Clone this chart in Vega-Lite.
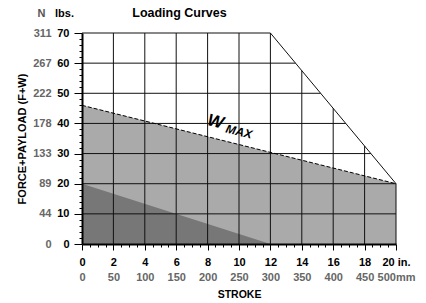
{
  "$schema": "https://vega.github.io/schema/vega-lite/v6.json",
  "width": 314,
  "height": 211,
  "autosize": {"type": "none"},
  "padding": {"left": 82, "top": 33, "right": 30, "bottom": 59},
  "background": "white",
  "config": {
    "font": "Liberation Sans",
    "view": {"stroke": null},
    "axis": {"grid": false, "labelOverlap": false, "labelFlush": false, "labelFont": "Liberation Sans", "titleFont": "Liberation Sans"},
    "text": {"font": "Liberation Sans"}
  },
  "datasets": {
    "wmax": [{"stroke": 0, "load": 46}, {"stroke": 20, "load": 20}],
    "fmax": [{"stroke": 0, "load": 20}, {"stroke": 12, "load": 0}],
    "grid": [
      {"x": 2, "x2": 2, "y": 0, "y2": 70},
      {"x": 4, "x2": 4, "y": 0, "y2": 70},
      {"x": 6, "x2": 6, "y": 0, "y2": 70},
      {"x": 8, "x2": 8, "y": 0, "y2": 70},
      {"x": 10, "x2": 10, "y": 0, "y2": 70},
      {"x": 12, "x2": 12, "y": 0, "y2": 70},
      {"x": 14, "x2": 14, "y": 0, "y2": 57.5},
      {"x": 16, "x2": 16, "y": 0, "y2": 45},
      {"x": 18, "x2": 18, "y": 0, "y2": 32.5},
      {"x": 20, "x2": 20, "y": 0, "y2": 20},
      {"x": 0, "x2": 20, "y": 10, "y2": 10},
      {"x": 0, "x2": 20, "y": 20, "y2": 20},
      {"x": 0, "x2": 18.4, "y": 30, "y2": 30},
      {"x": 0, "x2": 16.8, "y": 40, "y2": 40},
      {"x": 0, "x2": 15.2, "y": 50, "y2": 50},
      {"x": 0, "x2": 13.6, "y": 60, "y2": 60},
      {"x": 0, "x2": 12, "y": 70, "y2": 70},
      {"x": 12, "x2": 20, "y": 70, "y2": 20}
    ],
    "wline": [{"x": 0, "y": 46, "x2": 20, "y2": 20}],
    "labelW": [{"text": "W", "x": 8.5, "y": 40.5}],
    "labelMax": [{"text": "MAX", "x": 10.0, "y": 37.3}]
  },
  "resolve": {"axis": {"x": "independent", "y": "independent"}},
  "layer": [
    {
      "data": {"name": "wmax"},
      "mark": {"type": "area", "color": "#aaaaaa", "opacity": 1},
      "encoding": {
        "x": {"field": "stroke", "type": "quantitative",
          "scale": {"domain": [0, 20], "nice": false, "zero": true},
          "axis": {"orient": "bottom", "values": [0, 2, 4, 6, 8, 10, 12, 14, 16, 18, 20],
            "labelExpr": "datum.value == 20 ? '20 in.' : datum.label",
            "tickSize": 6, "tickColor": "black", "tickWidth": 1,
            "domain": true, "domainWidth": 2, "domainColor": "black",
            "labelFontWeight": "bold", "labelFontSize": 11, "labelColor": "black", "labelPadding": 6,
            "title": null, "zindex": 1}},
        "y": {"field": "load", "type": "quantitative",
          "scale": {"domain": [0, 70], "nice": false},
          "axis": {"orient": "left", "values": [0, 10, 20, 30, 40, 50, 60, 70],
            "tickSize": 8, "tickColor": "black", "tickWidth": 1,
            "domain": true, "domainWidth": 2, "domainColor": "black",
            "labelFontWeight": "bold", "labelFontSize": 11, "labelColor": "black", "labelPadding": 5,
            "title": "lbs.", "titleAngle": 0, "titleX": -18, "titleY": -20, "titleAlign": "center", "titleBaseline": "middle",
            "titleFontSize": 11, "titleFontWeight": "bold", "titleColor": "black", "zindex": 1}},
        "y2": {"datum": 0}
      }
    },
    {
      "data": {"name": "fmax"},
      "mark": {"type": "area", "color": "#777777", "opacity": 1},
      "encoding": {
        "x": {"field": "stroke", "type": "quantitative",
          "axis": {"orient": "bottom", "values": [0, 2, 4, 6, 8, 10, 12, 14, 16, 18, 20],
            "labelExpr": "datum.value == 20 ? '500mm' : '' + (datum.value * 25)",
            "ticks": false, "tickSize": 0, "domain": false,
            "labelFontSize": 11, "labelFontWeight": "bold", "labelColor": "#666666", "labelPadding": 27,
            "title": "STROKE", "titleY": 45, "titleBaseline": "top", "titleFontSize": 10.5, "titleFontWeight": "bold", "titleColor": "black"}},
        "y": {"field": "load", "type": "quantitative",
          "axis": {"orient": "left", "values": [0, 10, 20, 30, 40, 50, 60, 70],
            "labelExpr": "'' + round(datum.value * 4.448)",
            "ticks": false, "tickSize": 0, "domain": false, "offset": 25,
            "labelFontSize": 11, "labelFontWeight": "bold", "labelColor": "#666666", "labelPadding": 6,
            "title": "N", "titleAngle": 0, "titleX": -16, "titleY": -20, "titleAlign": "center", "titleBaseline": "middle",
            "titleFontSize": 11, "titleFontWeight": "bold", "titleColor": "#555555"}},
        "y2": {"datum": 0}
      }
    },
    {
      "data": {"name": "grid"},
      "mark": {"type": "rule", "color": "#111111", "strokeWidth": 1},
      "encoding": {
        "x": {"field": "x", "type": "quantitative",
          "axis": {"orient": "bottom", "values": [0.5, 1, 1.5, 2.5, 3, 3.5, 4.5, 5, 5.5, 6.5, 7, 7.5, 8.5, 9, 9.5, 10.5, 11, 11.5, 12.5, 13, 13.5, 14.5, 15, 15.5, 16.5, 17, 17.5, 18.5, 19, 19.5],
            "labels": false, "domain": false, "tickSize": 3, "tickColor": "black", "title": null, "zindex": 1}},
        "x2": {"field": "x2"},
        "y": {"field": "y", "type": "quantitative",
          "axis": {"orient": "left", "values": [2, 4, 6, 8, 12, 14, 16, 18, 22, 24, 26, 28, 32, 34, 36, 38, 42, 44, 46, 48, 52, 54, 56, 58, 62, 64, 66, 68],
            "labels": false, "domain": false, "tickSize": 3, "tickColor": "black",
            "title": "FORCE+PAYLOAD (F+W)", "titleAngle": 270, "titleX": -60, "titleY": 105.5, "titleAlign": "center", "titleBaseline": "middle",
            "titleFontSize": 11, "titleFontWeight": "bold", "titleColor": "black", "zindex": 1}},
        "y2": {"field": "y2"}
      }
    },
    {
      "data": {"name": "wline"},
      "mark": {"type": "rule", "color": "black", "strokeWidth": 1, "strokeDash": [4, 2]},
      "encoding": {
        "x": {"field": "x", "type": "quantitative",
          "axis": {"orient": "top", "labels": false, "ticks": false, "domain": false,
            "title": "Loading Curves", "titleX": 97, "titleY": -21, "titleAlign": "center", "titleBaseline": "middle",
            "titleFontSize": 12.5, "titleFontWeight": "bold", "titleColor": "black"}},
        "x2": {"field": "x2"},
        "y": {"field": "y", "type": "quantitative", "axis": null},
        "y2": {"field": "y2"}
      }
    },
    {
      "data": {"name": "labelW"},
      "mark": {"type": "text", "fontSize": 17, "fontWeight": "bold", "fontStyle": "italic", "angle": 14, "color": "black"},
      "encoding": {
        "x": {"field": "x", "type": "quantitative", "axis": null},
        "y": {"field": "y", "type": "quantitative", "axis": null},
        "text": {"field": "text"}
      }
    },
    {
      "data": {"name": "labelMax"},
      "mark": {"type": "text", "fontSize": 12, "fontWeight": "bold", "fontStyle": "italic", "angle": 14, "color": "black"},
      "encoding": {
        "x": {"field": "x", "type": "quantitative", "axis": null},
        "y": {"field": "y", "type": "quantitative", "axis": null},
        "text": {"field": "text"}
      }
    }
  ]
}
